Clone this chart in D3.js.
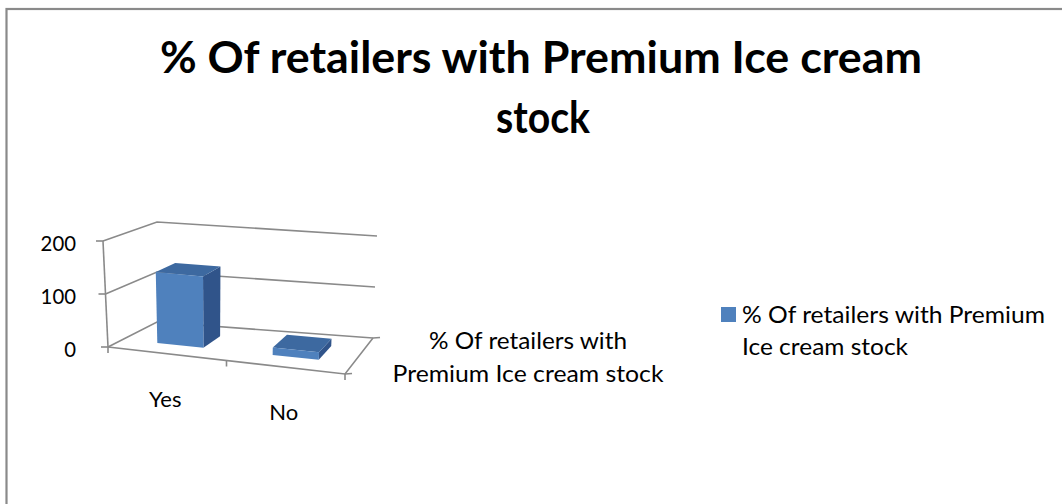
<!DOCTYPE html>
<html>
<head>
<meta charset="utf-8">
<script src="https://cdn.jsdelivr.net/npm/d3@7/dist/d3.min.js"></script>
<style>
  html, body { margin: 0; padding: 0; background: #ffffff; }
  svg { display: block; }
</style>
</head>
<body>
<svg id="chart" width="1062" height="504"></svg>
<script>
// ---- data ----
const categories = ["Yes", "No"];
const seriesNames = ["% Of retailers with Premium Ice cream stock"];
const values = [136, 14];
const valueTicks = [0, 100, 200];
const titleLines = ["% Of retailers with Premium Ice cream", "stock"];
const seriesAxisLines = ["% Of retailers with", "Premium Ice cream stock"];
const legendLines = ["% Of retailers with Premium", "Ice cream stock"];

// ---- layout ----
const FONT = "Lato, 'Noto Sans', sans-serif";
const GRID = "#8a8a8a";
const FACE_FRONT = "#4f81bd";
const FACE_TOP = "#3d69a0";
const FACE_SIDE = "#30548a";

// corners of the 3-D plot box (floor = 0, top = 1; front/back; left/right)
const box = {
  f0l: [108, 347], f0r: [345, 374], b0l: [157, 322], b0r: [373, 338],
  f1l: [103, 241], f1r: [350, 266], b1l: [157, 222], b1r: [377, 236]
};

const lerp = (a, b, t) => [a[0] + (b[0] - a[0]) * t, a[1] + (b[1] - a[1]) * t];
// u: across categories, v: value fraction, w: depth (front -> back)
function project(u, v, w) {
  const fb = lerp(box.f0l, box.f0r, u), bb = lerp(box.b0l, box.b0r, u);
  const ft = lerp(box.f1l, box.f1r, u), bt = lerp(box.b1l, box.b1r, u);
  return lerp(lerp(fb, bb, w), lerp(ft, bt, w), v);
}

// ---- scales ----
const x = d3.scaleBand().domain(categories).range([0, 1]).paddingInner(0.6).paddingOuter(0.3);
const z = d3.scaleBand().domain(seriesNames).range([0, 1]).paddingInner(0.6).paddingOuter(0.3);
const y = d3.scaleLinear().domain([0, d3.max(valueTicks)]).range([0, 1]);

const svg = d3.select("#chart");

// chart area border
svg.append("rect")
  .attr("x", 6.5).attr("y", 9).attr("width", 1100).attr("height", 600)
  .attr("fill", "none").attr("stroke", GRID).attr("stroke-width", 2.2);

const line = d3.line();
// shrink or stretch a label to a given run width
function setWidth(sel, target) {
  sel.attr("textLength", target).attr("lengthAdjust", "spacingAndGlyphs");
  return sel;
}
function label(xp, yp, txt, size, anchor, weight) {
  return svg.append("text").attr("x", xp).attr("y", yp)
    .attr("text-anchor", anchor || "start").attr("font-family", FONT)
    .attr("font-weight", weight || "normal").attr("font-size", size)
    .attr("fill", "#000").text(txt);
}

// ---- title ----
setWidth(label(541, 73, titleLines[0], 43, "middle", "bold"), 762);
setWidth(label(543, 133, titleLines[1], 43, "middle", "bold"), 94);

// ---- walls: gridlines on back and left walls ----
const g = svg.append("g").attr("fill", "none").attr("stroke", GRID).attr("stroke-width", 1.6);
valueTicks.forEach(t => {
  const v = y(t);
  g.append("path").attr("d", line([project(0, v, 0), project(0, v, 1), project(1, v, 1)]));
});
// floor: front edge (category axis) and right edge (series axis)
g.append("path").attr("d", line([project(0, 0, 0), project(1, 0, 0), project(1, 0, 1)]));
// value axis
g.append("path").attr("d", line([project(0, 0, 0), project(0, 1, 0)]));

// value ticks
valueTicks.forEach(t => {
  const p = project(0, y(t), 0);
  g.append("path").attr("d", line([[p[0] - 7, p[1]], p]));
});
// category ticks
[0, 0.5, 1].forEach(u => {
  const p = project(u, 0, 0);
  g.append("path").attr("d", line([p, [p[0], p[1] + 6]]));
});
// series ticks
[0, 1].forEach(w => {
  const p = project(1, 0, w);
  g.append("path").attr("d", line([p, [p[0] + 7, p[1] - 0.5]]));
});

// ---- bars ----
const bars = svg.append("g");
categories.forEach((c, i) => {
  const u0 = x(c), u1 = x(c) + x.bandwidth();
  const w0 = z(seriesNames[0]), w1 = z(seriesNames[0]) + z.bandwidth();
  const v = y(values[i]);
  const gb = bars.append("g");
  gb.append("path").attr("fill", FACE_SIDE)
    .attr("d", line([project(u1, 0, w0), project(u1, 0, w1), project(u1, v, w1), project(u1, v, w0)]) + "Z");
  gb.append("path").attr("fill", FACE_TOP)
    .attr("d", line([project(u0, v, w0), project(u1, v, w0), project(u1, v, w1), project(u0, v, w1)]) + "Z");
  gb.append("path").attr("fill", FACE_FRONT)
    .attr("d", line([project(u0, 0, w0), project(u1, 0, w0), project(u1, v, w0), project(u0, v, w0)]) + "Z");
});

// ---- value tick labels ----
const labelX = project(0, 1, 0)[0] - 27;
valueTicks.forEach(t => {
  const p = project(0, y(t), 0);
  setWidth(label(labelX, p[1] + 1.5, String(t), 22, "end").attr("dominant-baseline", "central"),
    String(t).length * 11.8);
});

// ---- category labels ----
categories.forEach(c => {
  const p = project(x(c) + x.bandwidth() / 2, 0, 0);
  label(p[0] - 2, p[1] + 53, c, 22, "middle");
});

// ---- series axis label ----
setWidth(label(528, 349, seriesAxisLines[0], 23.5, "middle"), 198);
setWidth(label(528, 382, seriesAxisLines[1], 23.5, "middle"), 271);

// ---- legend ----
svg.append("rect").attr("x", 721).attr("y", 307).attr("width", 15).attr("height", 15)
  .attr("fill", FACE_FRONT);
setWidth(label(742, 323, legendLines[0], 23.5), 303);
setWidth(label(742, 355, legendLines[1], 23.5), 166);
</script>
</body>
</html>
